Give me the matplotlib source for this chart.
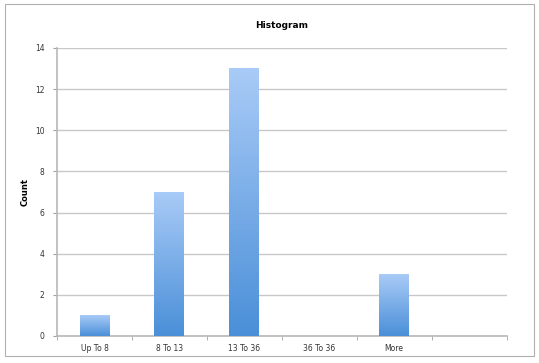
import matplotlib.pyplot as plt
import numpy as np
from matplotlib.patches import Rectangle

bins = ["Up To 8", "8 To 13", "13 To 36", "36 To 36", "More", ""]
counts = [1, 7, 13, 0, 3, 0]

fig = plt.figure(figsize=(5.39, 3.63), dpi=100)
ax = fig.add_axes([0.1058, 0.0744, 0.834, 0.7936])

# outer frame around the chart
fig.patches.append(Rectangle((0.009, 0.02), 0.982, 0.97, transform=fig.transFigure,
                             fill=False, edgecolor="#b0b0b0", linewidth=0.8))

x = np.arange(len(bins))
bars = ax.bar(x, counts, width=0.4, color="none", edgecolor="none", zorder=3)

# vertical gradient inside each bar (light top, darker bottom)
grad = np.linspace(0, 1, 256).reshape(-1, 1)
cmap = plt.matplotlib.colors.LinearSegmentedColormap.from_list("g", ["#4a8fd8", "#a9cbf7"])
for b, c in zip(bars, counts):
    if c == 0:
        continue
    x0 = b.get_x()
    im = ax.imshow(grad, extent=[x0, x0 + b.get_width(), 0, c], origin="lower",
                   aspect="auto", cmap=cmap, zorder=3)
    im.set_clip_path(b)

ax.set_xlim(-0.5, len(bins) - 0.5)
ax.set_ylim(0, 14)
ax.set_yticks(range(0, 15, 2))
ax.set_xticks(x)
ax.set_xticklabels(bins, fontsize=5.5, color="#333333")
ax.set_xticks(np.arange(-0.5, len(bins)), minor=True)
ax.tick_params(axis="x", which="major", length=0, pad=6)
ax.tick_params(axis="x", which="minor", length=3, color="#a0a0a0")
ax.tick_params(axis="y", labelsize=5.5, labelcolor="#333333", length=3, color="#a0a0a0", pad=6)
ax.grid(axis="y", color="#c8c8c8", linewidth=1, zorder=0)
ax.set_axisbelow(True)
for s in ["top", "right"]:
    ax.spines[s].set_visible(False)
for s in ["left", "bottom"]:
    ax.spines[s].set_color("#b8b8b8")
    ax.spines[s].set_linewidth(1.2)

ax.set_ylabel("Count", fontsize=6, fontweight="bold", labelpad=4)
ax.set_title("Histogram", fontsize=6.5, fontweight="bold", pad=14)

fig.savefig("out.png", dpi=100)
